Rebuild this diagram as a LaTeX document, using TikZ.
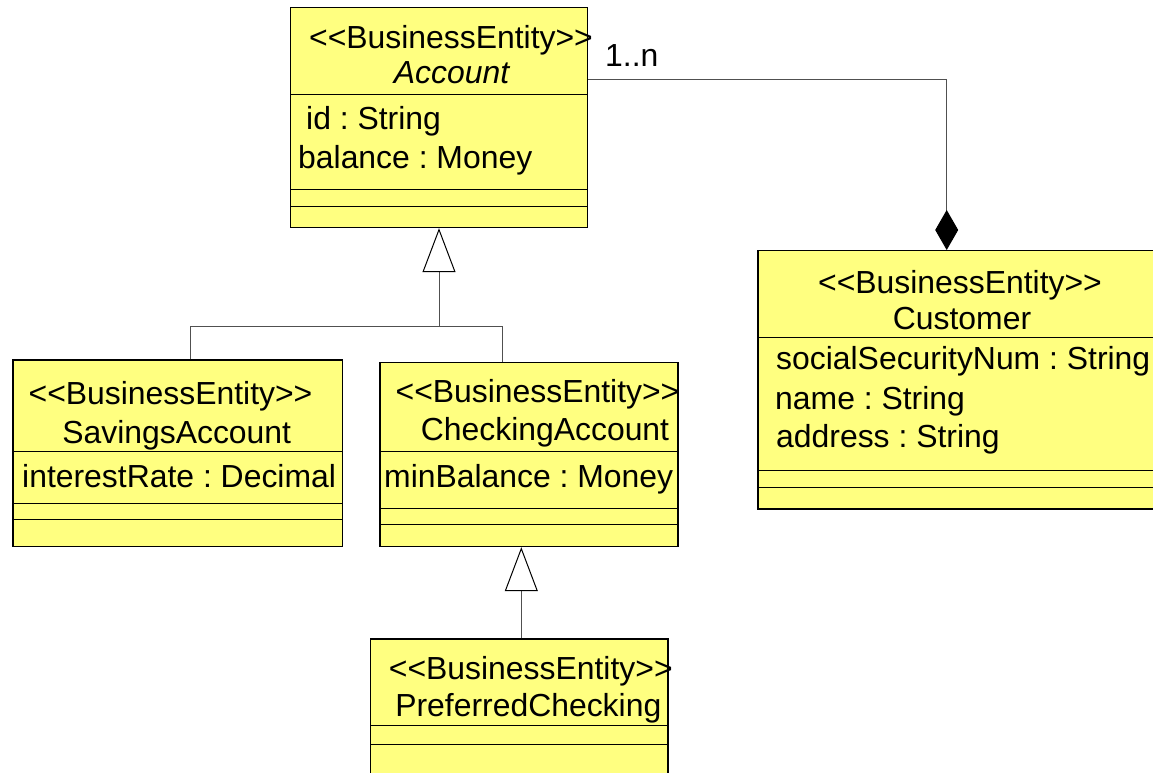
\documentclass[tikz,border=0pt]{standalone}
\usepackage{fontspec}
\newfontfamily\umlfont{Liberation Sans}
\usetikzlibrary{arrows.meta}
\definecolor{classyellow}{RGB}{255,255,128}
\definecolor{conngray}{RGB}{80,80,80}
\newcommand\classdiv[2]{\draw[divider] (#1.west |- 0,#2) -- (#1.east |- 0,#2);}
\frenchspacing
\begin{document}
\begin{tikzpicture}[x=1pt,y=-1pt,
  classbox/.style={draw=black, fill=classyellow, line width=1.2pt, rectangle, inner sep=0pt, anchor=north west},
  divider/.style={draw=black, line width=1pt},
  txt/.style={inner sep=0pt, font=\umlfont\frenchspacing\fontsize{31.9}{38}\selectfont, text=black},
  conn/.style={draw=conngray, line width=1pt},
  gentip/.style={-{Triangle[length=44pt, width=33pt, color=black, fill=white, line width=1pt]}},
  comptip/.style={-{Diamond[length=40pt, width=23pt, color=black, fill=black]}}
]
\useasboundingbox (0,0) rectangle (1153,773);
\clip (0,0) rectangle (1153,773);

% ---------- Account
\node[classbox, minimum width=297, minimum height=220] (acc) at (290,7) {};
\classdiv{acc}{94.3}
\classdiv{acc}{189}
\classdiv{acc}{206.3}
\node[txt, anchor=base] (accst) at (451,48.5) {<<BusinessEntity>>};
\node[txt, anchor=base, font=\umlfont\itshape\fontsize{31.9}{38}\selectfont] (accnm) at (451.5,84) {Account};
\node[txt, anchor=base west] (acca1) at (306,130) {id : String};
\node[txt, anchor=base west] (acca2) at (298,168) {balance : Money};

% ---------- SavingsAccount
\node[classbox, minimum width=329.4, minimum height=186.7] (sav) at (12.3,359.3) {};
\classdiv{sav}{451.7}
\classdiv{sav}{503.3}
\classdiv{sav}{519.3}
\node[txt, anchor=base] (savst) at (170.5,404) {<<BusinessEntity>>};
\node[txt, anchor=base] (savnm) at (176.7,443) {SavingsAccount};
\node[txt, anchor=base west] (sava1) at (22,487.5) {interestRate : Decimal};

% ---------- CheckingAccount
\node[classbox, minimum width=298, minimum height=184.3] (chk) at (379.3,361.7) {};
\classdiv{chk}{451.7}
\classdiv{chk}{508.7}
\classdiv{chk}{524.3}
\node[txt, anchor=base] (chkst) at (537.5,402.5) {<<BusinessEntity>>};
\node[txt, anchor=base] (chknm) at (545,440) {CheckingAccount};
\node[txt, anchor=base west] (chka1) at (384,487.5) {minBalance : Money};

% ---------- PreferredChecking
\node[classbox, minimum width=297.3, minimum height=160] (pref) at (370,638.3) {};
\classdiv{pref}{725.7}
\classdiv{pref}{744.3}
\node[txt, anchor=base] (prefst) at (530.8,679) {<<BusinessEntity>>};
\node[txt, anchor=base] (prefnm) at (528.3,716.5) {PreferredChecking};

% ---------- Customer
\node[classbox, minimum width=420, minimum height=258.3] (cust) at (757.3,250) {};
\classdiv{cust}{337.7}
\classdiv{cust}{470}
\classdiv{cust}{487.3}
\node[txt, anchor=base] (custst) at (960,293.5) {<<BusinessEntity>>};
\node[txt, anchor=base] (custnm) at (962,329.8) {Customer};
\node[txt, anchor=base west] (custa1) at (776,369) {socialSecurityNum : String};
\node[txt, anchor=base west] (custa2) at (775,409) {name : String};
\node[txt, anchor=base west] (custa3) at (776,447) {address : String};

% ---------- composition Account -- Customer
\coordinate (cbend) at (946.7,80);
\draw[conn, comptip] (acc.east |- cbend) -- (cbend) -- (cust.north -| cbend);
\node[txt, anchor=base west] (mult) at (605,66.5) {1..n};

% ---------- generalization Savings/Checking -> Account
\coordinate (gj1) at (190.7,326);
\coordinate (gj2) at (439,326);
\coordinate (gj3) at (502.7,326);
\draw[conn, gentip] (sav.north -| gj1) -- (gj1) -- (gj2) -- (acc.south -| gj2);
\draw[conn] (chk.north -| gj3) -- (gj3) -- (gj2);

% ---------- generalization PreferredChecking -> CheckingAccount
\coordinate (gp) at (521.3,600);
\draw[conn, gentip] (pref.north -| gp) -- (chk.south -| gp);
\end{tikzpicture}
\end{document}
